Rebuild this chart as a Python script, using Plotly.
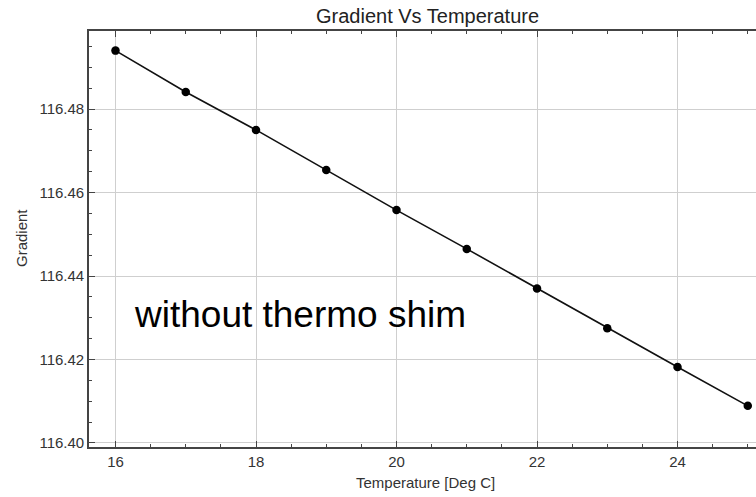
import plotly.graph_objects as go

temperature = [16, 17, 18, 19, 20, 21, 22, 23, 24, 25]
gradient = [116.4940, 116.4841, 116.4750, 116.4654, 116.4558,
            116.4465, 116.4370, 116.4275, 116.4182, 116.4089]
x_ticks = [16, 18, 20, 22, 24]
y_ticks = [116.40, 116.42, 116.44, 116.46, 116.48]
y_tick_labels = ["116.40", "116.42", "116.44", "116.46", "116.48"]

FONT = "Liberation Sans, Arial, sans-serif"
AX = "#444444"
TXT = "#333333"

L, T, B, R = 89, 31, 50, 0
W, H = 756, 497
PW = W - L - R
PH = H - T - B

fig = go.Figure()
fig.add_trace(go.Scatter(
    x=temperature, y=gradient, mode="lines+markers",
    line=dict(color="#111111", width=1.6),
    marker=dict(color="black", size=8.5),
    showlegend=False, cliponaxis=False,
))
fig.add_trace(go.Scatter(x=temperature, y=gradient, xaxis="x2", mode="none",
                         showlegend=False, hoverinfo="skip"))

xr = [15.623, 25.117]
yr = [116.39904, 116.4987]

common_minor = dict(ticks="inside", ticklen=3.5, tickcolor=AX, tickwidth=1, showgrid=False)

fig.update_layout(
    width=W, height=H,
    margin=dict(l=L, r=R, t=T, b=B, pad=0),
    plot_bgcolor="white", paper_bgcolor="white",
    font=dict(family=FONT, color=TXT, size=15),
    xaxis=dict(
        range=xr, tickvals=x_ticks, ticks="inside", ticklen=6, tickwidth=1.2,
        tickcolor=AX, showline=True, linecolor=AX, linewidth=1.6,
        showgrid=True, gridcolor="#cfcfcf", gridwidth=1, zeroline=False,
        minor=dict(dtick=0.5, tick0=16, **common_minor),
        tickfont=dict(size=15, color=TXT), automargin=False,
    ),
    xaxis2=dict(
        range=xr, overlaying="x", side="top", tickvals=x_ticks, ticks="inside",
        ticklen=6, tickwidth=1.2, tickcolor=AX, showline=True, linecolor=AX,
        linewidth=1.6, showgrid=False, showticklabels=False, zeroline=False,
        minor=dict(dtick=0.5, tick0=16, **common_minor), automargin=False,
    ),
    yaxis=dict(
        range=yr, tickvals=y_ticks, ticktext=y_tick_labels, ticks="inside",
        ticklen=6, tickwidth=1.2, tickcolor=AX, showline=True, linecolor=AX,
        linewidth=1.6, showgrid=True, gridcolor="#cfcfcf", gridwidth=1,
        zeroline=False,
        minor=dict(dtick=0.005, tick0=116.40, **common_minor),
        tickfont=dict(size=15, color=TXT), automargin=False,
    ),
    annotations=[
        dict(text="Gradient Vs Temperature", xref="paper", yref="paper",
             x=(427 - L) / PW, y=1 + (T - 16) / PH, xanchor="center", yanchor="middle",
             showarrow=False, font=dict(size=20, color="#222222")),
        dict(text="Temperature [Deg C]", xref="paper", yref="paper",
             x=(425 - L) / PW, y=-(482 - (H - B)) / PH, xanchor="center", yanchor="middle",
             showarrow=False, font=dict(size=15, color=TXT)),
        dict(text="Gradient", xref="paper", yref="paper", textangle=-90,
             x=-(L - 21) / PW, y=1 - (238 - T) / PH, xanchor="center", yanchor="middle",
             showarrow=False, font=dict(size=15, color=TXT)),
        dict(text="without thermo shim", xref="paper", yref="paper",
             x=(132 - L) / PW, y=1 - (314 - T) / PH, xanchor="left", yanchor="middle",
             showarrow=False, font=dict(size=37, color="black")),
    ],
)

fig.write_html("out.html", config={"displayModeBar": False},
               post_script="document.body.style.margin='0px';document.body.style.overflow='hidden';")
